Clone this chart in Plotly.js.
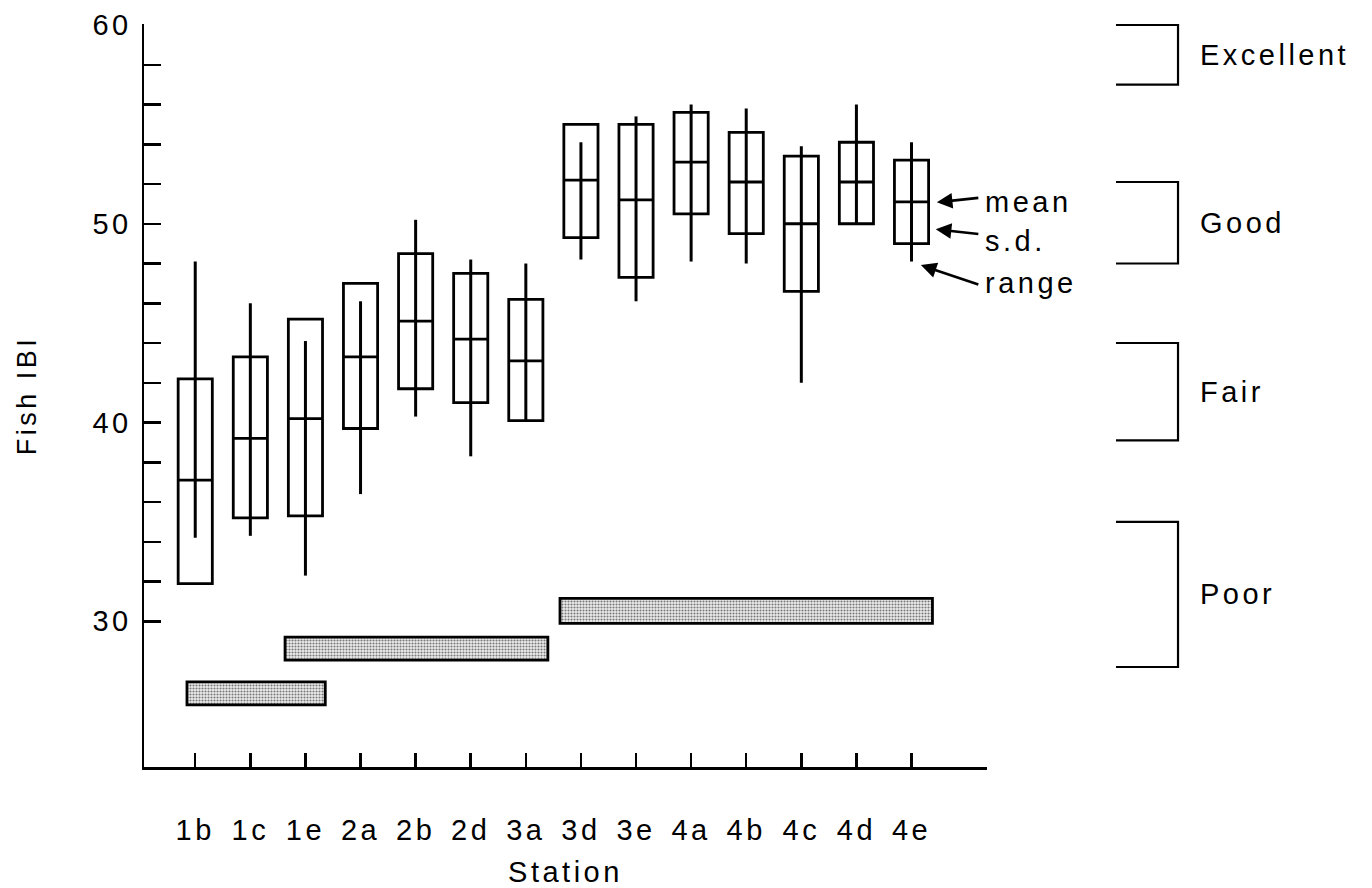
<!DOCTYPE html>
<html>
<head>
<meta charset="utf-8">
<script src="https://cdn.plot.ly/plotly-3.0.1.min.js"></script>
<style>
  html, body { margin: 0; padding: 0; background: #fff; }
  svg text { letter-spacing: 3.5px; }
</style>
</head>
<body>
<div id="chart" style="width:1372px;height:888px;"></div>
<script>
// ---- data ----
const stations = ['1b','1c','1e','2a','2b','2d','3a','3d','3e','4a','4b','4c','4d','4e'];
const meanIBI  = [37.1, 39.2, 40.2, 43.3, 45.1, 44.2, 43.1, 52.2, 51.2, 53.1, 52.1, 50.0, 52.1, 51.1];
const sdLow    = [31.9, 35.2, 35.3, 39.7, 41.7, 41.0, 40.1, 49.3, 47.3, 50.5, 49.5, 46.6, 50.0, 49.0];
const sdHigh   = [42.2, 43.3, 45.2, 47.0, 48.5, 47.5, 46.2, 55.0, 55.0, 55.6, 54.6, 53.4, 54.1, 53.2];
const rangeMin = [34.2, 34.3, 32.3, 36.4, 40.3, 38.3, 40.1, 48.2, 46.1, 48.1, 48.0, 42.0, 50.0, 48.1];
const rangeMax = [48.1, 46.0, 44.1, 46.1, 50.2, 48.2, 48.0, 54.1, 55.4, 56.0, 55.8, 53.9, 56.0, 54.1];

// homogeneous groups (shaded bars): start/end in station index units, low/high in IBI units
const groupStart = [-0.15, 1.63, 6.62];
const groupEnd   = [2.36, 6.40, 13.38];
const groupLow   = [25.8, 28.05, 29.9];
const groupHigh  = [26.95, 29.2, 31.15];

// integrity classes (right-hand brackets)
const classNames = ['Excellent', 'Good', 'Fair', 'Poor'];
const classLow   = [57.0, 48.0, 39.1, 27.7];
const classHigh  = [60.0, 52.1, 44.0, 35.0];

// y-axis ticks
const yTickVals = [30,32,34,36,38,40,42,44,46,48,50,52,54,56,58,60];
const yTickText = yTickVals.map(v => (v % 10 === 0 ? String(v) : ''));

// ---- build traces ----
const idx = stations.map((s, i) => i);
const FONT = 'Liberation Sans, Arial, Helvetica, sans-serif';

const rx = [], ry = [];
idx.forEach(i => { rx.push(i, i, null); ry.push(rangeMin[i], rangeMax[i], null); });

const boxTrace = {
  type: 'box',
  x: idx,
  q1: sdLow, median: meanIBI, q3: sdHigh,
  lowerfence: sdLow, upperfence: sdHigh,
  width: 0.62,
  whiskerwidth: 0,
  boxpoints: false,
  fillcolor: 'rgba(0,0,0,0)',
  line: { color: '#000', width: 2.8 },
  hoverinfo: 'skip',
  showlegend: false
};

const rangeTrace = {
  type: 'scatter', mode: 'lines',
  x: rx, y: ry,
  line: { color: '#000', width: 3 },
  hoverinfo: 'skip', showlegend: false
};

const groupTrace = {
  type: 'bar', orientation: 'h',
  y: groupLow.map((l, k) => (l + groupHigh[k]) / 2),
  x: groupStart.map((s, k) => groupEnd[k] - s),
  base: groupStart,
  width: groupLow.map((l, k) => groupHigh[k] - l),
  marker: {
    color: '#d8d8d8',
    line: { color: '#000', width: 2.8 },
    pattern: { shape: '.', fgcolor: '#777', bgcolor: '#eeeeee', size: 3, solidity: 0.4 }
  },
  hoverinfo: 'skip', showlegend: false
};

// brackets on the right
const bx0 = 1.153, bx1 = 1.2266;
const shapes = classNames.map((n, k) => ({
  type: 'path', xref: 'paper', yref: 'y',
  path: `M ${bx0},${classHigh[k]} H ${bx1} V ${classLow[k]} H ${bx0}`,
  line: { color: '#000', width: 2.2 }
}));

const annotations = classNames.map((n, k) => ({
  xref: 'paper', yref: 'y', x: 1.2503, y: (classLow[k] + classHigh[k]) / 2,
  xanchor: 'left', yanchor: 'middle', showarrow: false,
  text: n, font: { family: FONT, size: 29, color: '#000' }
}));

// key: mean / s.d. / range pointers at station 4e
const keyText  = ['mean', 's.d.', 'range'];
const keyTextY = [51.1, 49.15, 47.0];
keyText.forEach((t, k) => annotations.push({
  xref: 'x', yref: 'y', x: 14.30, y: keyTextY[k], xanchor: 'left', yanchor: 'middle',
  showarrow: false, text: t, font: { family: FONT, size: 29, color: '#000' }
}));
const arrowHead = [[13.46, 51.08], [13.44, 49.72], [13.17, 47.92]];
const arrowTail = [[14.24, 51.31], [14.24, 49.48], [14.24, 46.92]];
arrowHead.forEach((h, k) => annotations.push({
  xref: 'x', yref: 'y', axref: 'x', ayref: 'y',
  x: h[0], y: h[1], ax: arrowTail[k][0], ay: arrowTail[k][1],
  text: '', showarrow: true, arrowhead: 2, arrowsize: 1.2, arrowwidth: 2.6, arrowcolor: '#000'
}));

const layout = {
  width: 1372, height: 888,
  margin: { l: 144, r: 385, t: 24, b: 121 },
  paper_bgcolor: '#fff', plot_bgcolor: '#fff',
  font: { family: FONT, size: 29, color: '#000' },
  showlegend: false,
  xaxis: {
    range: [-0.93, 14.37],
    tickmode: 'array', tickvals: idx, ticktext: stations,
    ticks: 'inside', ticklen: 14, tickwidth: 2.5, tickcolor: '#000',
    showline: true, linewidth: 2.5, linecolor: '#000',
    showgrid: false, zeroline: false,
    tickfont: { family: FONT, size: 29, color: '#000' },
    ticklabelstandoff: 36,
    title: { text: 'Station', font: { family: FONT, size: 29, color: '#000' }, standoff: 22 },
    fixedrange: true
  },
  yaxis: {
    range: [22.67, 60.05],
    tickmode: 'array', tickvals: yTickVals, ticktext: yTickText,
    ticks: 'inside', ticklen: 17, tickwidth: 2.5, tickcolor: '#000',
    showline: true, linewidth: 2.5, linecolor: '#000',
    showgrid: false, zeroline: false,
    tickfont: { family: FONT, size: 29, color: '#000' },
    ticklabelstandoff: 4,
    title: { text: 'Fish IBI', font: { family: FONT, size: 27, color: '#000' }, standoff: 48 },
    fixedrange: true
  },
  shapes: shapes,
  annotations: annotations
};

Plotly.newPlot('chart', [groupTrace, boxTrace, rangeTrace], layout, { displayModeBar: false, staticPlot: true });
</script>
</body>
</html>
